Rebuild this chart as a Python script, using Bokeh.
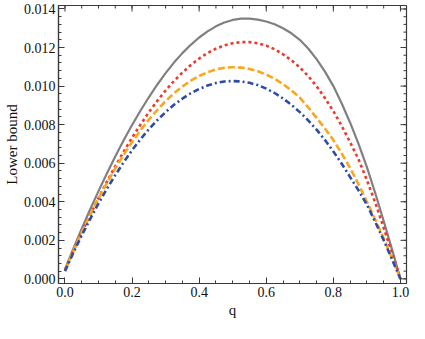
import math
from bokeh.plotting import figure
from bokeh.models import Range1d, FixedTicker
from bokeh.embed import file_html
from bokeh.resources import INLINE

q = [0.000, 0.025, 0.050, 0.075, 0.100, 0.125, 0.150, 0.175, 0.200, 0.225,
     0.250, 0.275, 0.300, 0.325, 0.350, 0.375, 0.400, 0.425, 0.450, 0.475,
     0.500, 0.525, 0.550, 0.575, 0.600, 0.625, 0.650, 0.675, 0.700, 0.725,
     0.750, 0.775, 0.800, 0.825, 0.850, 0.875, 0.900, 0.925, 0.950, 0.975, 1.000]
gray_vals = [0.00050, 0.00157, 0.00260, 0.00360, 0.00455, 0.00547, 0.00635, 0.00719,
             0.00798, 0.00872, 0.00942, 0.01007, 0.01067, 0.01122, 0.01171, 0.01214,
             0.01252, 0.01284, 0.01310, 0.01330, 0.01343, 0.01350, 0.01350, 0.01345,
             0.01335, 0.01321, 0.01300, 0.01274, 0.01240, 0.01195, 0.01140, 0.01075,
             0.01000, 0.00910, 0.00810, 0.00700, 0.00580, 0.00444, 0.00300, 0.00152,
             0.00000]
red_vals = [0.00045, 0.00144, 0.00239, 0.00331, 0.00419, 0.00504, 0.00584, 0.00660,
            0.00732, 0.00800, 0.00864, 0.00923, 0.00977, 0.01026, 0.01070, 0.01109,
            0.01143, 0.01172, 0.01194, 0.01211, 0.01222, 0.01228, 0.01228, 0.01222,
            0.01210, 0.01191, 0.01165, 0.01134, 0.01097, 0.01052, 0.00999, 0.00938,
            0.00870, 0.00793, 0.00708, 0.00620, 0.00512, 0.00395, 0.00265, 0.00133,
            0.00000]
orange_vals = [0.00045, 0.00145, 0.00241, 0.00331, 0.00417, 0.00497, 0.00573, 0.00644,
               0.00710, 0.00770, 0.00826, 0.00876, 0.00922, 0.00963, 0.00998, 0.01028,
               0.01052, 0.01072, 0.01086, 0.01095, 0.01098, 0.01096, 0.01089, 0.01077,
               0.01060, 0.01038, 0.01010, 0.00978, 0.00940, 0.00890, 0.00835, 0.00780,
               0.00720, 0.00650, 0.00575, 0.00490, 0.00400, 0.00307, 0.00210, 0.00106,
               0.00000]
blue_vals = [0.00040, 0.00135, 0.00225, 0.00310, 0.00391, 0.00467, 0.00538, 0.00605,
             0.00667, 0.00724, 0.00776, 0.00823, 0.00865, 0.00903, 0.00935, 0.00963,
             0.00985, 0.01003, 0.01016, 0.01024, 0.01026, 0.01024, 0.01017, 0.01005,
             0.00987, 0.00964, 0.00936, 0.00903, 0.00865, 0.00822, 0.00774, 0.00720,
             0.00661, 0.00597, 0.00528, 0.00459, 0.00385, 0.00295, 0.00200, 0.00101,
             0.00000]

x_ticks = [0.0, 0.2, 0.4, 0.6, 0.8, 1.0]
x_tick_labels = ["0.0", "0.2", "0.4", "0.6", "0.8", "1.0"]
y_ticks = [0.000, 0.002, 0.004, 0.006, 0.008, 0.010, 0.012, 0.014]
y_tick_labels = ["0.000", "0.002", "0.004", "0.006", "0.008", "0.010", "0.012", "0.014"]
x_minor = [i * 0.05 for i in range(21)]
y_minor = [i * 0.0004 for i in range(36)]

X0, X1 = -0.0192, 1.018
Y0, Y1 = -0.00024, 0.01418

FONT = "Liberation Serif"
FRAME = "#3a3a3a"

p = figure(width=409, height=323, output_backend="svg", toolbar_location=None,
           x_range=Range1d(X0, X1), y_range=Range1d(Y0, Y1),
           x_axis_label="q", y_axis_label="Lower bound",
           min_border_left=51, min_border_right=3, min_border_top=5, min_border_bottom=40)
p.xgrid.visible = False
p.ygrid.visible = False
p.outline_line_color = FRAME
p.outline_line_width = 1.2
p.background_fill_color = "white"
p.border_fill_color = "white"

p.line(q, gray_vals, line_color="#808080", line_width=2.2)
p.line(q, red_vals, line_color="#EE3A2C", line_width=2.6, line_dash="3 3")
p.line(q, orange_vals, line_color="#FBA61C", line_width=2.6, line_dash="7 3")
p.line(q, blue_vals, line_color="#2B4CA8", line_width=2.6, line_dash="6 3 2 3")

for ax, ticks, minor, labels in ((p.xaxis[0], x_ticks, x_minor, x_tick_labels),
                                 (p.yaxis[0], y_ticks, y_minor, y_tick_labels)):
    ax.ticker = FixedTicker(ticks=ticks, minor_ticks=minor)
    ax.major_label_overrides = {t: l for t, l in zip(ticks, labels)}
    ax.major_tick_in = 6
    ax.major_tick_out = 0
    ax.minor_tick_in = 3
    ax.minor_tick_out = 0
    ax.axis_line_color = FRAME
    ax.axis_line_width = 1.2
    ax.major_tick_line_color = FRAME
    ax.minor_tick_line_color = FRAME
    ax.major_label_text_font = FONT
    ax.major_label_text_font_size = "14px"
    ax.major_label_text_color = "#111111"
    ax.axis_label_text_font = FONT
    ax.axis_label_text_font_size = "15px"
    ax.axis_label_text_font_style = "normal"
    ax.axis_label_text_color = "#111111"

p.xaxis[0].major_label_standoff = 3
p.xaxis[0].axis_label_standoff = 2
p.yaxis[0].major_label_standoff = 3
p.yaxis[0].axis_label_standoff = 1

# inward ticks on the top and right frame edges (clipped to the frame)
p.scatter(x_ticks, [Y1] * len(x_ticks), marker="dash", size=12, angle=math.pi / 2,
          line_color=FRAME, line_width=1)
p.scatter(x_minor, [Y1] * len(x_minor), marker="dash", size=6, angle=math.pi / 2,
          line_color=FRAME, line_width=1)
p.scatter([X1] * len(y_ticks), y_ticks, marker="dash", size=12,
          line_color=FRAME, line_width=1)
p.scatter([X1] * len(y_minor), y_minor, marker="dash", size=6,
          line_color=FRAME, line_width=1)

open("out.html", "w").write(file_html(p, INLINE))
